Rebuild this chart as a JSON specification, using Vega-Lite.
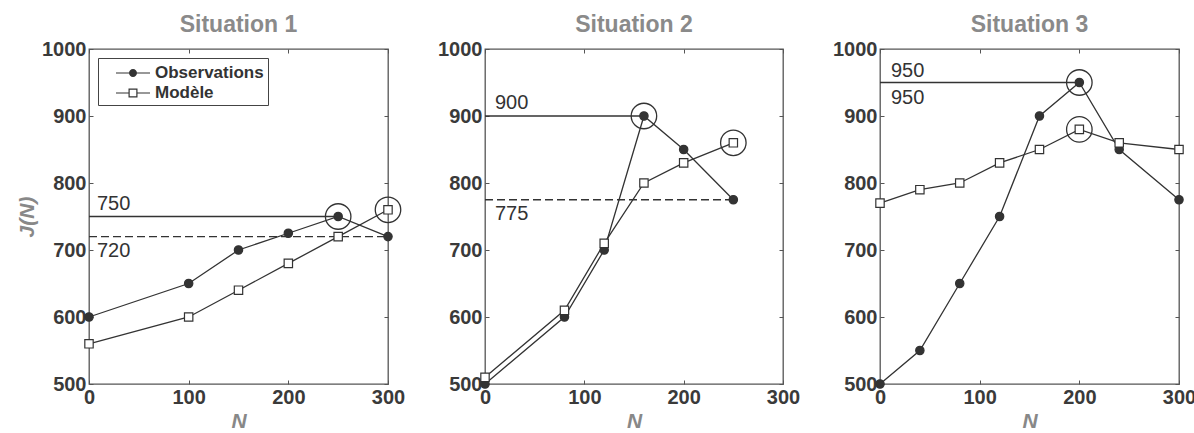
{
  "$schema": "https://vega.github.io/schema/vega-lite/v6.json",
  "background": "white",
  "padding": {"left": 15, "top": 13, "right": 0, "bottom": 0},
  "config": {
    "font": "Liberation Sans",
    "view": {"stroke": "#555", "strokeWidth": 1.3},
    "title": {"fontSize": 23, "fontWeight": "bold", "color": "#8a8a8a", "offset": 2, "font": "Liberation Sans"},
    "legend": {"labelFontSize": 17, "labelFontWeight": "bold", "labelFont": "Liberation Sans", "labelColor": "#333"},
    "axis": {
      "labelFont": "Liberation Sans", "labelFontWeight": "bold", "labelFontSize": 20, "labelColor": "#3a3a3a",
      "labelFlush": false, "labelOverlap": false,
      "domain": false, "grid": false, "tickColor": "#555", "tickSize": -4, "labelPadding": 7,
      "titleFont": "Liberation Sans", "titleFontStyle": "italic", "titleFontWeight": "bold", "titleFontSize": 21, "titleColor": "#888"
    }
  },
  "datasets": {
    "s1": [
      {"N": 0, "J": 600, "serie": "Observations"}, {"N": 100, "J": 650, "serie": "Observations"}, {"N": 150, "J": 700, "serie": "Observations"},
      {"N": 200, "J": 725, "serie": "Observations"}, {"N": 250, "J": 750, "serie": "Observations"}, {"N": 300, "J": 720, "serie": "Observations"},
      {"N": 0, "J": 560, "serie": "Modèle"}, {"N": 100, "J": 600, "serie": "Modèle"}, {"N": 150, "J": 640, "serie": "Modèle"},
      {"N": 200, "J": 680, "serie": "Modèle"}, {"N": 250, "J": 720, "serie": "Modèle"}, {"N": 300, "J": 760, "serie": "Modèle"}
    ],
    "r1": [
      {"y": 750, "from": 0, "to": 250, "style": "solid"},
      {"y": 720, "from": 0, "to": 300, "style": "dashed"}
    ],
    "t1": [
      {"N": 8, "J": 750, "label": "750", "pos": "above"},
      {"N": 8, "J": 720, "label": "720", "pos": "below"}
    ],
    "c1": [{"N": 250, "J": 750}, {"N": 300, "J": 760}],
    "s2": [
      {"N": 0, "J": 500, "serie": "Observations"}, {"N": 80, "J": 600, "serie": "Observations"}, {"N": 120, "J": 700, "serie": "Observations"},
      {"N": 160, "J": 900, "serie": "Observations"}, {"N": 200, "J": 850, "serie": "Observations"}, {"N": 250, "J": 775, "serie": "Observations"},
      {"N": 0, "J": 510, "serie": "Modèle"}, {"N": 80, "J": 610, "serie": "Modèle"}, {"N": 120, "J": 710, "serie": "Modèle"},
      {"N": 160, "J": 800, "serie": "Modèle"}, {"N": 200, "J": 830, "serie": "Modèle"}, {"N": 250, "J": 860, "serie": "Modèle"}
    ],
    "r2": [
      {"y": 900, "from": 0, "to": 160, "style": "solid"},
      {"y": 775, "from": 0, "to": 250, "style": "dashed"}
    ],
    "t2": [
      {"N": 10, "J": 900, "label": "900", "pos": "above"},
      {"N": 10, "J": 775, "label": "775", "pos": "below"}
    ],
    "c2": [{"N": 160, "J": 900}, {"N": 250, "J": 860}],
    "s3": [
      {"N": 0, "J": 500, "serie": "Observations"}, {"N": 40, "J": 550, "serie": "Observations"}, {"N": 80, "J": 650, "serie": "Observations"},
      {"N": 120, "J": 750, "serie": "Observations"}, {"N": 160, "J": 900, "serie": "Observations"}, {"N": 200, "J": 950, "serie": "Observations"},
      {"N": 240, "J": 850, "serie": "Observations"}, {"N": 300, "J": 775, "serie": "Observations"},
      {"N": 0, "J": 770, "serie": "Modèle"}, {"N": 40, "J": 790, "serie": "Modèle"}, {"N": 80, "J": 800, "serie": "Modèle"},
      {"N": 120, "J": 830, "serie": "Modèle"}, {"N": 160, "J": 850, "serie": "Modèle"}, {"N": 200, "J": 880, "serie": "Modèle"},
      {"N": 240, "J": 860, "serie": "Modèle"}, {"N": 300, "J": 850, "serie": "Modèle"}
    ],
    "r3": [
      {"y": 950, "from": 0, "to": 200, "style": "solid"}
    ],
    "t3": [
      {"N": 11, "J": 950, "label": "950", "pos": "above"},
      {"N": 11, "J": 950, "label": "950", "pos": "below"}
    ],
    "c3": [{"N": 200, "J": 950}, {"N": 200, "J": 880}]
  },
  "bounds": "flush",
  "spacing": 97,
  "resolve": {"legend": {"shape": "independent", "fill": "independent"}},
  "hconcat": [
    {
      "width": 299, "height": 335,
      "title": "Situation 1",
      "layer": [
        {"layer": [
          {"data": {"name": "r1"}, "mark": {"type": "rule", "color": "#333", "strokeWidth": 1.3},
           "encoding": {"y": {"field": "y", "type": "quantitative", "scale": {"domain": [500, 1000]}, "axis": {"values": [500,600,700,800,900,1000], "format": "d", "title": "J(N)", "titlePadding": 4}},
                        "x": {"field": "from", "type": "quantitative", "scale": {"domain": [0, 300]}, "axis": {"values": [0,100,200,300], "title": "N", "titlePadding": 3}},
                        "x2": {"field": "to"},
                        "strokeDash": {"field": "style", "type": "nominal", "scale": {"domain": ["solid", "dashed"], "range": [[1, 0], [8, 4]]}, "legend": null}}},
          {"data": {"name": "t1"}, "transform": [{"filter": "datum.pos == 'above'"}], "mark": {"type": "text", "align": "left", "dy": -13, "fontSize": 20, "color": "#333"},
           "encoding": {"x": {"field": "N", "type": "quantitative"}, "y": {"field": "J", "type": "quantitative"}, "text": {"field": "label"}}},
          {"data": {"name": "t1"}, "transform": [{"filter": "datum.pos == 'below'"}], "mark": {"type": "text", "align": "left", "dy": 14, "fontSize": 20, "color": "#333"},
           "encoding": {"x": {"field": "N", "type": "quantitative"}, "y": {"field": "J", "type": "quantitative"}, "text": {"field": "label"}}},
          {"data": {"name": "s1"}, "mark": {"type": "line", "color": "#333", "strokeWidth": 1.3},
           "encoding": {"x": {"field": "N", "type": "quantitative"}, "y": {"field": "J", "type": "quantitative"}, "detail": {"field": "serie"}}},
          {"data": {"name": "s1"}, "mark": {"type": "point", "stroke": "#333", "strokeWidth": 1.2, "opacity": 1},
           "encoding": {"x": {"field": "N", "type": "quantitative"}, "y": {"field": "J", "type": "quantitative"},
                        "shape": {"field": "serie", "type": "nominal", "scale": {"domain": ["Observations", "Modèle"], "range": ["circle", "square"]}, "legend": null},
                        "fill": {"field": "serie", "type": "nominal", "scale": {"domain": ["Observations", "Modèle"], "range": ["#333", "#ffffff"]}, "legend": null},
                        "size": {"value": 70}}},
          {"data": {"name": "c1"}, "mark": {"type": "point", "shape": "circle", "size": 650, "stroke": "#333", "strokeWidth": 1.3, "filled": false, "opacity": 1},
           "encoding": {"x": {"field": "N", "type": "quantitative"}, "y": {"field": "J", "type": "quantitative"}}},
          {"data": {"name": "s1"}, "mark": {"type": "point", "filled": true, "color": "#333", "stroke": "#333", "strokeWidth": 1.2, "opacity": 0},
           "encoding": {"x": {"field": "N", "type": "quantitative"}, "y": {"field": "J", "type": "quantitative"},
                        "shape": {"field": "serie", "type": "nominal",
                                  "scale": {"domain": ["Observations", "Modèle"],
                                            "range": ["M-1.7,-0.06H1.7V0.06H-1.7ZM-0.4,0A0.4,0.4 0 1,1 0.4,0A0.4,0.4 0 1,1 -0.4,0Z",
                                                      "M-1.7,-0.06H-0.45V0.06H-1.7ZM0.45,-0.06H1.7V0.06H0.45ZM-0.45,-0.45H0.45V0.45H-0.45ZM-0.33,-0.33V0.33H0.33V-0.33Z"]},
                                  "legend": {"title": null, "orient": "top-left", "offset": 9, "strokeColor": "#444", "padding": 4, "rowPadding": 1,
                                             "labelFontSize": 17, "labelFontWeight": "bold", "labelColor": "#333", "labelFont": "Liberation Sans",
                                             "symbolSize": 400, "symbolOffset": 20, "labelOffset": 11, "symbolOpacity": 1,
                                             "symbolFillColor": "#333", "symbolStrokeColor": "#333", "symbolStrokeWidth": 1.2}}}}
        ], "resolve": {"scale": {"shape": "independent"}}},
        {"data": {"name": "c1"}, "mark": {"type": "point", "opacity": 0},
         "encoding": {"x": {"field": "N", "type": "quantitative", "axis": {"orient": "top", "values": [0,100,200,300], "labels": false, "title": null}},
                      "y": {"field": "J", "type": "quantitative", "axis": {"orient": "right", "values": [500,600,700,800,900,1000], "labels": false, "title": null}}}}
      ],
      "resolve": {"axis": {"x": "independent", "y": "independent"}}
    },
    {
      "width": 298, "height": 335,
      "title": "Situation 2",
      "layer": [
        {"layer": [
          {"data": {"name": "r2"}, "mark": {"type": "rule", "color": "#333", "strokeWidth": 1.3},
           "encoding": {"y": {"field": "y", "type": "quantitative", "scale": {"domain": [500, 1000]}, "axis": {"values": [500,600,700,800,900,1000], "format": "d", "title": null}},
                        "x": {"field": "from", "type": "quantitative", "scale": {"domain": [0, 300]}, "axis": {"values": [0,100,200,300], "title": "N", "titlePadding": 3}},
                        "x2": {"field": "to"},
                        "strokeDash": {"field": "style", "type": "nominal", "scale": {"domain": ["solid", "dashed"], "range": [[1, 0], [8, 4]]}, "legend": null}}},
          {"data": {"name": "t2"}, "transform": [{"filter": "datum.pos == 'above'"}], "mark": {"type": "text", "align": "left", "dy": -13, "fontSize": 20, "color": "#333"},
           "encoding": {"x": {"field": "N", "type": "quantitative"}, "y": {"field": "J", "type": "quantitative"}, "text": {"field": "label"}}},
          {"data": {"name": "t2"}, "transform": [{"filter": "datum.pos == 'below'"}], "mark": {"type": "text", "align": "left", "dy": 14, "fontSize": 20, "color": "#333"},
           "encoding": {"x": {"field": "N", "type": "quantitative"}, "y": {"field": "J", "type": "quantitative"}, "text": {"field": "label"}}},
          {"data": {"name": "s2"}, "mark": {"type": "line", "color": "#333", "strokeWidth": 1.3},
           "encoding": {"x": {"field": "N", "type": "quantitative"}, "y": {"field": "J", "type": "quantitative"}, "detail": {"field": "serie"}}},
          {"data": {"name": "s2"}, "mark": {"type": "point", "stroke": "#333", "strokeWidth": 1.2, "opacity": 1},
           "encoding": {"x": {"field": "N", "type": "quantitative"}, "y": {"field": "J", "type": "quantitative"},
                        "shape": {"field": "serie", "type": "nominal", "scale": {"domain": ["Observations", "Modèle"], "range": ["circle", "square"]}, "legend": null},
                        "fill": {"field": "serie", "type": "nominal", "scale": {"domain": ["Observations", "Modèle"], "range": ["#333", "#ffffff"]}, "legend": null},
                        "size": {"value": 70}}},
          {"data": {"name": "c2"}, "mark": {"type": "point", "shape": "circle", "size": 650, "stroke": "#333", "strokeWidth": 1.3, "filled": false, "opacity": 1},
           "encoding": {"x": {"field": "N", "type": "quantitative"}, "y": {"field": "J", "type": "quantitative"}}}
        ]},
        {"data": {"name": "c2"}, "mark": {"type": "point", "opacity": 0},
         "encoding": {"x": {"field": "N", "type": "quantitative", "axis": {"orient": "top", "values": [0,100,200,300], "labels": false, "title": null}},
                      "y": {"field": "J", "type": "quantitative", "axis": {"orient": "right", "values": [500,600,700,800,900,1000], "labels": false, "title": null}}}}
      ],
      "resolve": {"axis": {"x": "independent", "y": "independent"}}
    },
    {
      "width": 299, "height": 335,
      "title": "Situation 3",
      "layer": [
        {"layer": [
          {"data": {"name": "r3"}, "mark": {"type": "rule", "color": "#333", "strokeWidth": 1.3},
           "encoding": {"y": {"field": "y", "type": "quantitative", "scale": {"domain": [500, 1000]}, "axis": {"values": [500,600,700,800,900,1000], "format": "d", "title": null}},
                        "x": {"field": "from", "type": "quantitative", "scale": {"domain": [0, 300]}, "axis": {"values": [0,100,200,300], "title": "N", "titlePadding": 3}},
                        "x2": {"field": "to"}}},
          {"data": {"name": "t3"}, "transform": [{"filter": "datum.pos == 'above'"}], "mark": {"type": "text", "align": "left", "dy": -12, "fontSize": 20, "color": "#333"},
           "encoding": {"x": {"field": "N", "type": "quantitative"}, "y": {"field": "J", "type": "quantitative"}, "text": {"field": "label"}}},
          {"data": {"name": "t3"}, "transform": [{"filter": "datum.pos == 'below'"}], "mark": {"type": "text", "align": "left", "dy": 15, "fontSize": 20, "color": "#333"},
           "encoding": {"x": {"field": "N", "type": "quantitative"}, "y": {"field": "J", "type": "quantitative"}, "text": {"field": "label"}}},
          {"data": {"name": "s3"}, "mark": {"type": "line", "color": "#333", "strokeWidth": 1.3},
           "encoding": {"x": {"field": "N", "type": "quantitative"}, "y": {"field": "J", "type": "quantitative"}, "detail": {"field": "serie"}}},
          {"data": {"name": "s3"}, "mark": {"type": "point", "stroke": "#333", "strokeWidth": 1.2, "opacity": 1},
           "encoding": {"x": {"field": "N", "type": "quantitative"}, "y": {"field": "J", "type": "quantitative"},
                        "shape": {"field": "serie", "type": "nominal", "scale": {"domain": ["Observations", "Modèle"], "range": ["circle", "square"]}, "legend": null},
                        "fill": {"field": "serie", "type": "nominal", "scale": {"domain": ["Observations", "Modèle"], "range": ["#333", "#ffffff"]}, "legend": null},
                        "size": {"value": 70}}},
          {"data": {"name": "c3"}, "mark": {"type": "point", "shape": "circle", "size": 650, "stroke": "#333", "strokeWidth": 1.3, "filled": false, "opacity": 1},
           "encoding": {"x": {"field": "N", "type": "quantitative"}, "y": {"field": "J", "type": "quantitative"}}}
        ]},
        {"data": {"name": "c3"}, "mark": {"type": "point", "opacity": 0},
         "encoding": {"x": {"field": "N", "type": "quantitative", "axis": {"orient": "top", "values": [0,100,200,300], "labels": false, "title": null}},
                      "y": {"field": "J", "type": "quantitative", "axis": {"orient": "right", "values": [500,600,700,800,900,1000], "labels": false, "title": null}}}}
      ],
      "resolve": {"axis": {"x": "independent", "y": "independent"}}
    }
  ]
}
